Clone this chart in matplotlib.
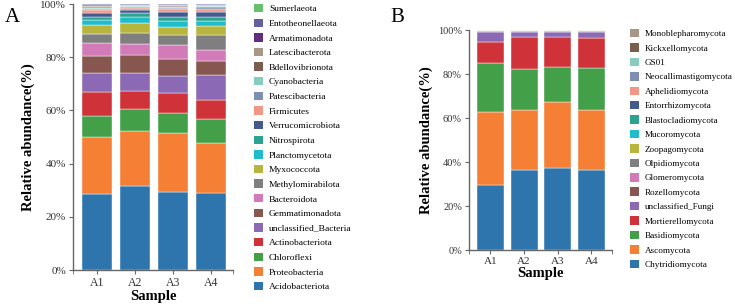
import numpy as np
import matplotlib.pyplot as plt
from matplotlib.patches import Patch

plt.rcParams['font.family'] = ['Liberation Serif', 'DejaVu Serif']

samples = ['A1', 'A2', 'A3', 'A4']

# panel A: bacteria, bottom -> top
bac_names = ['Acidobacteriota', 'Proteobacteria', 'Chloroflexi', 'Actinobacteriota',
             'unclassified_Bacteria', 'Gemmatimonadota', 'Bacteroidota', 'Methylomirabilota',
             'Myxococcota', 'Planctomycetota', 'Nitrospirota', 'Verrucomicrobiota',
             'Firmicutes', 'Patescibacteria', 'Cyanobacteria', 'Bdellovibrionota',
             'Latescibacterota', 'Armatimonadota', 'Entotheonellaeota', 'Sumerlaeota']
bac_A1 = [28.6, 21.4, 8.0, 8.8, 7.1, 6.6, 4.7, 3.5, 3.4, 1.9, 1.0, 1.6, 1.0, 0.5, 0.5, 0.4, 0.3, 0.3, 0.3, 0.1]
bac_A2 = [31.6, 20.7, 8.1, 6.8, 7.0, 6.5, 4.3, 4.1, 3.6, 2.3, 1.7, 1.0, 0.7, 0.4, 0.3, 0.3, 0.2, 0.2, 0.1, 0.1]
bac_A3 = [29.4, 22.1, 7.4, 7.8, 6.4, 6.2, 5.4, 3.5, 3.3, 2.1, 1.5, 1.9, 1.0, 0.5, 0.4, 0.4, 0.2, 0.2, 0.2, 0.1]
bac_A4 = [28.9, 18.8, 9.1, 7.1, 9.4, 5.4, 3.9, 5.7, 3.4, 2.0, 1.5, 1.9, 1.1, 0.5, 0.4, 0.3, 0.2, 0.2, 0.1, 0.1]

# panel B: fungi, bottom -> top
fun_names = ['Chytridiomycota', 'Ascomycota', 'Basidiomycota', 'Mortierellomycota',
             'unclassified_Fungi', 'Rozellomycota', 'Glomeromycota', 'Olpidiomycota',
             'Zoopagomycota', 'Mucoromycota', 'Blastocladiomycota', 'Entorrhizomycota',
             'Aphelidiomycota', 'Neocallimastigomycota', 'GS01', 'Kickxellomycota',
             'Monoblepharomycota']
fun_A1 = [29.5, 33.2, 22.1, 9.9, 4.5, 0.25, 0.15, 0.1, 0.08, 0.06, 0.05, 0.03, 0.03, 0.02, 0.01, 0.01, 0.01]
fun_A2 = [36.5, 27.1, 18.5, 14.6, 2.5, 0.25, 0.15, 0.1, 0.08, 0.06, 0.05, 0.03, 0.03, 0.02, 0.01, 0.01, 0.01]
fun_A3 = [37.4, 30.0, 15.8, 13.5, 2.5, 0.25, 0.15, 0.1, 0.08, 0.06, 0.05, 0.03, 0.03, 0.02, 0.01, 0.01, 0.01]
fun_A4 = [36.5, 27.0, 19.2, 13.8, 2.7, 0.25, 0.15, 0.1, 0.08, 0.06, 0.05, 0.03, 0.03, 0.02, 0.01, 0.01, 0.01]

colors = ['#2e75ae', '#f47f35', '#44a048', '#cf3339', '#8b69b4', '#87574f', '#d27bb8',
          '#7f7f80', '#b7b53e', '#1fbccc', '#2ca38e', '#425a8e', '#f09785', '#7e8fb3',
          '#87cdbd', '#7a5d4c', '#a89687', '#632c80', '#6360a0', '#67c06b']

fig = plt.figure(figsize=(7.35, 3.04), dpi=100)


def stacked(ax, names, data, width, xlim, label_size, tick_size):
    data = np.array(data).T  # taxa x samples
    x = np.arange(len(samples))
    bottom = np.zeros(len(samples))
    for i, name in enumerate(names):
        ax.bar(x, data[i], width, bottom=bottom, color=colors[i], label=name,
               edgecolor='white', linewidth=0.3)
        bottom += data[i]
    ax.set_xlim(*xlim)
    ax.set_ylim(0, 100)
    ax.set_xticks(x)
    ax.set_xticklabels(samples, fontsize=tick_size + 0.5)
    ax.set_xticks(list(xlim), minor=True)
    ax.set_yticks(np.arange(0, 101, 20))
    ax.set_yticklabels([f'{v}%' for v in range(0, 101, 20)], fontsize=tick_size)
    for s in ['top', 'right']:
        ax.spines[s].set_visible(False)
    for s in ['left', 'bottom']:
        ax.spines[s].set_color('#666666')
        ax.spines[s].set_linewidth(1.0)
    ax.tick_params(which='both', color='#666666', length=3, labelcolor='#333333', pad=2)
    ax.set_xlabel('Sample', fontsize=label_size, fontweight='bold', labelpad=1)
    ax.set_ylabel('Relative abundance(%)', fontsize=label_size, fontweight='bold')


axA = fig.add_axes([0.0993, 0.1118, 0.2177, 0.875])
stacked(axA, bac_names, [bac_A1, bac_A2, bac_A3, bac_A4], 0.79, (-0.63, 3.58), 10.5, 8)
axA.yaxis.set_label_coords(-0.24, 0.5)

axB = fig.add_axes([0.638, 0.1776, 0.1946, 0.7237])
stacked(axB, fun_names, [fun_A1, fun_A2, fun_A3, fun_A4], 0.80, (-0.64, 3.61), 10.5, 7.5)
axB.yaxis.set_label_coords(-0.25, 0.5)

fig.text(12 / 735, 1 - 17 / 304, 'A', fontsize=15, ha='center', va='center')
fig.text(397 / 735, 1 - 17 / 304, 'B', fontsize=15, ha='center', va='center')

hA = [Patch(facecolor=colors[i], label=n) for i, n in enumerate(bac_names)][::-1]
fig.legend(handles=hA, loc='upper left', bbox_to_anchor=(252 / 735, 1 - 2 / 304),
           frameon=False, fontsize=6.8, handlelength=1.0, handleheight=1.0,
           handletextpad=0.6, labelspacing=0.547, borderaxespad=0, borderpad=0.2)

hB = [Patch(facecolor=colors[i], label=n) for i, n in enumerate(fun_names)][::-1]
fig.legend(handles=hB, loc='upper left', bbox_to_anchor=(628 / 735, 1 - 27 / 304),
           frameon=False, fontsize=6.6, handlelength=1.05, handleheight=1.05,
           handletextpad=0.55, labelspacing=0.55, borderaxespad=0, borderpad=0.2)

fig.savefig('out.png', dpi=100)
